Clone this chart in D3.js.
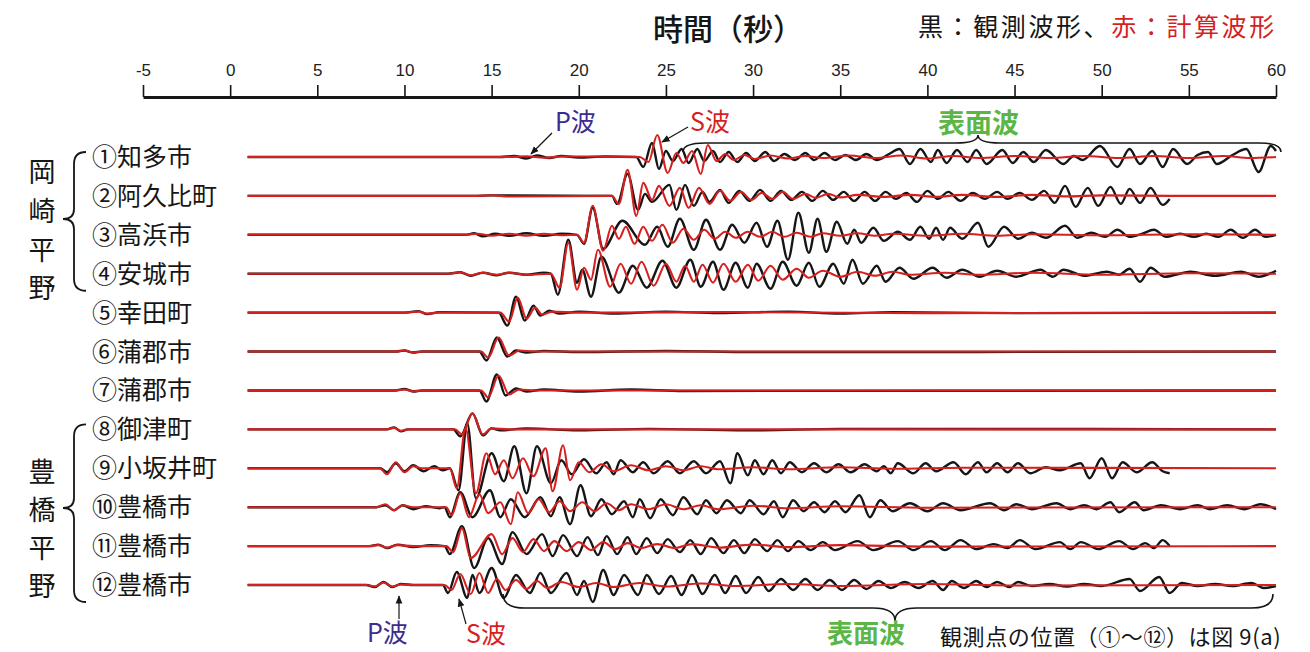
<!DOCTYPE html>
<html>
<head>
<meta charset="utf-8">
<script src="https://cdn.jsdelivr.net/npm/d3@7"></script>
<style>
  body { margin: 0; background: #fff; }
  svg { display: block; }
  text { font-family: "Noto Sans CJK JP", sans-serif; }
</style>
</head>
<body>
<svg id="chart" width="1310" height="652"></svg>
<script>
// time axis (seconds)
const tickValues = [-5, 0, 5, 10, 15, 20, 25, 30, 35, 40, 45, 50, 55, 60];

// station names, top to bottom
const stations = ['①知多市', '②阿久比町', '③高浜市', '④安城市', '⑤幸田町', '⑥蒲郡市',
  '⑦蒲郡市', '⑧御津町', '⑨小坂井町', '⑩豊橋市', '⑪豊橋市', '⑫豊橋市'];

// waveform extrema: [time (s), amplitude]
// obs = observed (black), syn = computed (red)
const obs1 = [[1,0],[15.5,0],[16.3,1],[17.0,-1.5],[17.6,1.5],[18.3,-1],[19,1],[20,-0.5],[21.5,0.5],[23.3,0],
  [23.7,-10],[24.2,14],[24.6,-12],[25.0,6],[25.4,-4],[25.9,8],[26.3,-6],[26.8,8],[27.2,-4],[27.7,6],[28.1,-5],
  [28.6,5],[29.1,-5],[29.6,4],[30.1,-4],[30.7,5],[31.2,-4],[31.8,3],[32.4,-3],[33.0,4],[33.5,-3],[34.1,4],
  [34.7,-3],[35.3,2],[35.9,-3],[36.5,3],[37.1,-3],[37.8,3],[38.4,8],[39.0,-7],[39.6,8],[40.2,-5],[40.6,7],
  [41.1,-6],[41.7,7],[42.3,-5],[42.8,7],[43.4,-7],[44.3,7],[44.9,-6],[45.5,5],[46.1,-5],[46.8,7],[47.8,-7],
  [48.4,1],[48.9,-3],[49.9,11],[50.9,-10],[51.6,8],[52.2,-7],[52.9,6],[53.5,-10],[54.1,8],[54.9,-7],[55.5,2],
  [56.1,5],[56.6,-7],[57.5,2],[58.3,8],[59.0,-15],[59.7,11],[60,6]];
const syn1 = [[1,0],[16,0],[17,0.8],[18,-0.8],[19,0.5],[23.5,0],[24.0,-5],[24.5,22],[25.1,-16],[25.6,4],[26.0,-6],
  [26.5,6],[27.0,-17],[27.4,12],[27.9,-4],[28.4,3],[28.9,-3],[29.5,2],[30.1,-2],[31,1.5],[32,-1.5],[33,1],[34,-1],
  [35.5,1.5],[37,-1],[38.5,1.5],[40,-1.5],[41.5,1],[43,-1],[45,1],[47,-1],[49,1],[51,-1],[53,1],[55,-1],[57,1],
  [58.5,-1],[60,0]];

const obs2 = [[1,0],[14,0],[15,0.5],[21.9,0],[22.2,-8],[22.8,22],[23.4,-14],[23.8,2],[24.2,-6],
  [25.2,11],[25.6,-14],[26.1,11],[26.6,-10],[27.1,4],[27.5,-6],[28.1,6],[28.6,-7],[29.2,5],[29.8,-5],[30.4,6],
  [31.0,-5],[31.6,5],[32.2,-4],[32.8,4],[33.4,-5],[34.0,5],[34.6,-4],[35.2,4],[35.8,-5],[36.4,4],[37.0,-5],
  [37.6,4],[38.2,-3],[38.8,3],[39.4,-6],[40.0,5],[40.6,-3],[41.2,4],[41.9,-5],[42.6,3],[43.3,-3],[44.0,4],
  [44.6,-3],[45.3,3],[46.0,-4],[46.7,5],[47.3,-7],[47.9,10],[48.5,-11],[49.2,8],[49.8,-10],[50.5,9],[51.1,-8],
  [51.6,7],[52.2,-7],[52.8,8],[53.5,-9],[53.9,-3]];
const syn2 = [[1,0],[14,0],[15,0.6],[16,-0.6],[21.9,0],[22.3,-8],[22.8,26],[23.3,-20],[23.7,13],[24.2,-4],[24.6,10],
  [25.2,-10],[25.8,8],[26.3,-12],[26.9,8],[27.5,-8],[28.1,5],[28.7,-5],[29.3,4],[29.9,-4],[30.5,3],[31.1,-3],
  [31.7,4],[32.3,-3],[33.0,2],[33.6,-2],[34.3,2],[35.0,-1.5],[36,1],[37.5,-1],[39,1],[40.5,-1],[42,1],[44,-1],
  [46,1],[48,-0.5],[50,0.5],[54,0],[60,0]];

const obs3 = [[1,0],[13.5,0],[14,1.5],[14.5,-1.5],[15.2,1],[16,-1],[17,1.5],[18,-1],[19,1],[19.9,0],
  [20.3,-9],[20.8,27],[21.4,-14],[22.5,14],[23.8,-10],[24.5,8],[25.1,-12],[25.8,16],[26.6,-15],[27.3,15],
  [28.1,-15],[28.8,10],[29.5,-8],[30.2,12],[30.8,-12],[31.4,14],[32.0,-25],[32.6,22],[33.2,-18],[33.7,16],
  [34.2,-17],[34.8,13],[35.4,-9],[35.8,5],[36.2,-8],[36.9,7],[37.5,-6],[38.3,3],[39.0,-5],[39.6,8],[40.1,-4],
  [40.5,7],[40.9,-5],[41.3,7],[42.0,-4],[42.9,12],[43.5,-12],[44.4,8],[45.2,-4],[46.0,2],[46.8,-3],[47.9,9],
  [48.6,-3],[49.4,2],[50.2,-2],[50.9,5],[51.6,-2],[52.3,1],[53.0,5],[53.7,-2],[54.5,1],[55.3,-2],[56.0,1],
  [56.7,-2],[57.4,5],[58.1,-3],[58.8,5],[59.4,-2],[60,0]];
const syn3 = [[1,0],[13.5,0],[14.2,1],[15,-1],[16,1],[17,-1],[18,1],[19,-0.5],[19.9,0],[20.3,-8],[20.8,29],
  [21.4,-16],[21.9,9],[22.3,-4],[22.7,8],[23.2,-9],[23.7,8],[24.2,-6],[24.8,10],[25.4,-8],[26.0,6],[26.6,-5],
  [27.2,5],[27.8,-4],[28.4,3],[29.0,-3],[29.7,3],[30.4,-2],[31.1,3],[31.8,-2],[32.5,2],[33.3,-2],[34,1.5],
  [35,-1],[36,1.5],[37,-1],[38,1],[40,-1],[42,1],[44,-1],[46,0.5],[50,-0.5],[55,0.5],[60,0]];

const obs4 = [[1,0],[12.5,0],[13.2,1.5],[13.8,-2],[14.5,1],[15.3,-1.5],[16,1],[17,-1],[18,1],[18.4,0],
  [18.8,-21],[19.4,34],[19.9,-9],[20.2,4],[20.7,-23],[21.3,17],[22.3,-19],[23.1,8],[23.9,-14],[24.8,13],
  [25.6,-14],[26.4,14],[27.0,-13],[27.7,12],[28.3,-16],[29.0,11],[29.7,-14],[30.2,10],[31.0,-15],[31.7,12],
  [32.5,-12],[33.2,11],[33.8,-13],[34.6,10],[35.2,-10],[35.7,14],[36.3,-10],[37.1,8],[37.6,-8],[38.4,6],
  [39.2,-5],[40.3,6],[41.1,-4],[42.0,4],[43.0,-3],[44.0,3],[45.1,-3],[46.5,4],[47.2,-3],[47.8,4],[49.0,-2],
  [50.3,2],[51.0,-1],[51.6,5],[52.2,-8],[52.8,6],[53.6,-3],[55.1,2],[56.5,-2],[58.0,2],[59.0,-3],[60,3]];
const syn4 = [[1,0],[12.5,0],[13.2,1.5],[13.8,-1.5],[14.5,1],[15.3,-1],[16,1],[17,-1],[18.4,0],[18.9,-14],
  [19.4,31],[19.9,-16],[20.3,6],[20.7,-6],[21.1,24],[21.8,-13],[22.4,10],[23.0,-10],[23.6,12],[24.3,-12],
  [25.0,10],[25.6,-8],[26.1,8],[26.6,-8],[27.1,9],[27.7,-9],[28.3,10],[29.0,-8],[29.7,9],[30.3,-7],[31.0,8],
  [31.7,-6],[32.5,5],[33.2,-4],[34,3],[35,-3],[36,2],[37,-2],[38,2],[39,-1],[41,1],[43,-1],[46,1],[50,-1],
  [55,0.5],[60,0]];

const obs5 = [[1,0],[10,0],[10.8,1.5],[11.3,-1.5],[12,0.5],[15.4,0],[15.9,-13],[16.4,16],[16.9,-8],[17.4,7],
  [17.8,-3],[18.3,2],[18.9,-1],[20,1],[22,-1],[25,1],[28,-0.5],[32,1],[35,-1],[38,0.5],[45,-0.5],[60,0]];
const syn5 = [[1,0],[10,0],[10.8,1],[11.3,-1],[12,0],[15.5,0],[16.0,-9],[16.5,15],[17.0,-6],[17.5,5],[17.9,-2],
  [18.5,1],[20,0],[30,0.5],[40,-0.5],[60,0]];

const obs6 = [[1,0],[9.5,0],[10,1],[10.5,-1],[11,0],[14.3,0],[14.7,-9],[15.3,14],[15.9,-5],[16.4,1],[17,-1],
  [18,0.5],[20,-0.5],[25,0.5],[30,-0.5],[60,0]];
const syn6 = [[1,0],[9.5,0],[10,1],[10.5,-1],[11,0],[14.4,0],[14.8,-6],[15.4,14],[16.0,-4],[16.6,1],[17.5,0],[60,0]];

const obs7 = [[1,0],[9.5,0],[10,1.5],[10.5,-1],[11,0],[14.3,0],[14.7,-11],[15.3,16],[15.8,-5],[16.4,2],[17,-1],
  [18,1],[20,-1],[23,1],[26,-0.5],[60,0]];
const syn7 = [[1,0],[9.5,0],[10,1],[10.5,-1],[11,0],[14.4,0],[14.8,-7],[15.4,15],[16.0,-4],[16.6,1],[17.5,0],[60,0]];

const obs8 = [[1,0],[9.0,0],[9.4,2],[9.8,-2],[10.2,0],[12.8,0],[13.2,-7],[13.9,16],[14.5,-6],[15.0,1],[15.5,-1],
  [17,1],[20,-1],[24,0.5],[30,-1],[35,0.5],[60,0]];
const syn8 = [[1,0],[9.0,0],[9.4,1.5],[9.8,-1.5],[10.2,0],[12.9,0],[13.3,-5],[13.9,16],[14.5,-5],[15,1],[16,0],[60,0]];

const obs9 = [[1,0],[8.6,0],[9.0,-4],[9.5,5],[10.0,-3],[10.5,3],[11.1,-3],[11.7,2],[12.2,-2],[12.6,0],
  [13.1,-22],[13.6,45],[14.1,-30],[15.0,15],[15.7,-13],[16.3,22],[17.0,-25],[17.6,22],[18.4,-15],[19.0,8],
  [19.6,-6],[20.3,9],[21.0,-5],[21.6,6],[22.0,-6],[22.4,8],[23.1,-4],[23.7,6],[24.3,-5],[25.1,7],[25.8,-5],
  [26.6,7],[27.3,-5],[28.1,7],[28.7,-15],[29.1,15],[29.7,-7],[30.1,8],[30.6,-6],[31.1,8],[31.6,-5],[32.1,6],
  [32.8,-4],[33.5,5],[34.2,-4],[34.9,4],[35.6,-4],[36.4,4],[37.1,-3],[37.5,2],[37.9,-5],[38.3,5],[39.2,-5],
  [39.9,5],[40.5,-3],[41.5,6],[42.2,-6],[42.9,6],[43.4,-4],[44.0,5],[44.6,-4],[45.2,5],[45.9,-5],[46.8,1],
  [47.6,-2],[48.8,5],[49.3,-10],[50.0,10],[50.6,-10],[51.2,6],[52.0,-4],[52.9,6],[53.5,-3],[53.9,-5]];
const syn9 = [[1,0],[8.6,0],[9.0,-6],[9.5,6],[10.0,-4],[10.5,2],[11,0],[12.6,0],[13.0,-20],[13.5,40],[14.1,-25],
  [14.7,15],[15.2,-6],[15.7,8],[16.2,-10],[16.8,10],[17.4,-8],[18.1,20],[18.5,-23],[19.1,23],[19.5,-12],
  [20.0,6],[20.6,-4],[21.3,4],[22,-3],[23,3],[24,-2],[25,2],[26,-2],[27,2],[28,-1],[30,1],[32,-1],[35,1],
  [38,-0.5],[42,0.5],[60,0]];

const obs10 = [[1,0],[8.4,0],[8.9,2],[9.4,-3],[9.9,2],[10.5,-2],[11.2,1],[12,-1],[12.3,0],[12.6,-10],[13.2,15],
  [13.9,-10],[14.9,17],[15.5,-10],[16.1,8],[16.9,-10],[17.8,10],[18.4,-9],[18.9,10],[19.5,-17],[20.1,22],
  [20.7,-9],[21.3,8],[21.9,-7],[22.6,6],[23.1,-10],[23.5,8],[24.1,-11],[24.7,8],[25.4,-8],[26.0,10],[26.8,-7],
  [27.3,7],[27.9,-6],[28.5,7],[29.3,-6],[29.8,7],[30.6,-7],[31.2,6],[31.7,-10],[32.3,7],[32.9,-4],[33.5,5],
  [34.1,-5],[34.7,6],[35.3,-5],[36.1,12],[36.7,-10],[37.3,7],[38.0,-4],[39.0,4],[40.0,-4],[40.9,4],[41.9,-3],
  [43.6,4],[44.4,-3],[45.1,3],[46.0,-2],[47.4,4],[48.2,-2],[49,2],[49.7,-2],[50.5,5],[51.0,-5],[51.9,5],
  [52.4,-3],[53.4,2],[54.5,-2],[55.5,2],[56.2,-2],[57.2,2],[58.2,-2],[59.1,3],[60,-2]];
const syn10 = [[1,0],[8.4,0],[8.9,3],[9.4,-3],[9.9,2],[10.5,0],[12.4,0],[12.7,-8],[13.2,14],[13.7,-10],[14.3,13],
  [14.8,-6],[15.5,5],[16.1,-17],[16.5,15],[17.1,-6],[17.7,8],[18.3,-5],[18.9,6],[19.5,-4],[20.2,5],[20.9,-4],
  [21.6,4],[22.3,-3],[23,3],[24,-2],[25,3],[26,-2],[27,2],[28,-2],[30,1.5],[32,-1],[35,1],[40,-0.5],[60,0]];

const obs11 = [[1,0],[8,0],[8.5,1.5],[9,-2],[9.6,1.5],[10.5,-1],[11.5,1],[12.3,0],[12.6,-8],[13.3,20],[14.0,-22],
  [14.8,8],[15.6,-18],[16.2,14],[17.0,-8],[17.9,12],[18.5,-10],[19.1,11],[19.9,-10],[20.5,9],[21.1,-9],
  [21.6,10],[22.2,-8],[22.8,9],[23.3,-8],[23.9,8],[24.5,-7],[25.1,7],[25.8,-6],[26.4,6],[27.0,-8],[27.6,8],
  [28.3,-7],[28.9,6],[29.5,-7],[30.1,7],[30.8,-5],[31.4,6],[32.0,-5],[32.6,5],[33.3,-4],[34.0,4],[34.7,-4],
  [36.0,5],[36.9,-4],[38.3,5],[39.2,-4],[40.2,5],[41.0,-4],[41.9,6],[42.8,-3],[43.8,2],[44.6,-2],[45.3,6],
  [46.2,-3],[47.6,4],[48.2,-3],[48.8,4],[49.8,-3],[51.0,5],[51.8,-3],[52.5,3],[53.0,-2],[53.5,6],[53.9,0]];
const syn11 = [[1,0],[8,0],[8.5,1],[9,-1.5],[9.6,1],[10.5,0],[12.4,0],[12.8,-6],[13.3,18],[13.8,-12],[15.0,12],
  [15.6,-8],[16.2,8],[16.8,-6],[17.4,7],[18.0,-5],[18.6,5],[19.3,-5],[20.0,4],[20.7,-4],[21.4,4],[22.1,-3],
  [22.8,3],[23.6,-2],[24.5,2],[25.5,-2],[26.5,2],[28,-1.5],[30,1.5],[32,-1],[35,1],[40,-0.5],[60,0]];

const obs12 = [[1,0],[7.8,0],[8.3,-2],[8.8,3],[9.3,-2],[9.8,1],[10.5,0],[12.2,0],[12.5,-8],[13.0,13],[13.6,-13],
  [13.9,10],[14.3,-8],[15.0,17],[15.7,-13],[16.4,10],[17.2,-8],[17.8,12],[18.4,-8],[19.3,12],[19.9,-10],
  [20.3,4],[20.8,-17],[21.4,15],[22.0,-10],[22.6,10],[23.4,-10],[23.9,10],[24.6,-9],[25.3,9],[25.9,-10],
  [26.5,10],[27.1,-9],[27.8,10],[28.4,-8],[29.0,9],[29.6,-8],[30.3,8],[30.9,-6],[31.6,6],[32.3,-5],[33.0,6],
  [33.7,-5],[34.4,5],[35.1,-5],[35.8,5],[36.5,-4],[37.2,4],[37.9,-3],[38.7,3],[39.5,-3],[40.3,4],[40.9,-5],
  [41.4,4],[42.1,-3],[42.8,4],[43.4,-2],[44.0,3],[44.7,-2],[45.2,3],[46.0,-1],[47,1],[48,-1.5],[49,1],[50,-1],
  [51.6,6],[52.2,-6],[53.3,8],[53.9,-8],[54.6,2],[55.5,-1],[56.5,1],[57.5,-1],[58.6,2],[59.3,-3],[60,-1]];
const syn12 = [[1,0],[7.8,0],[8.3,-1.5],[8.8,2.5],[9.3,-1.5],[9.8,0.5],[10.5,0],[12.3,0],[12.7,-5],[13.2,11],
  [13.8,-9],[14.3,12],[14.8,-8],[15.3,6],[15.8,-5],[16.4,5],[17.0,-4],[17.6,4],[18.2,-3],[19,3],[20,-2],[21,2],
  [22,-2],[23.5,2],[25,-1.5],[27,1.5],[29,-1],[32,1],[35,-1],[40,1],[45,-0.5],[60,0]];

const observed = [obs1, obs2, obs3, obs4, obs5, obs6, obs7, obs8, obs9, obs10, obs11, obs12];
const computed = [syn1, syn2, syn3, syn4, syn5, syn6, syn7, syn8, syn9, syn10, syn11, syn12];

const BLACK = '#161616', RED = '#d61f1f', PURPLE = '#3b2c8e', GREEN = '#5bb646';

const svg = d3.select('#chart');

// scales
const x = d3.scaleLinear().domain([-5, 60]).range([143, 1276]);
const row = d3.scaleLinear().domain([0, stations.length - 1]).range([157, 585]);
const amp = d3.scaleLinear().domain([0, 1]).range([0, -1]);

// arrow head
svg.append('defs').append('marker')
    .attr('id', 'arrow')
    .attr('viewBox', '0 0 10 10')
    .attr('refX', 9).attr('refY', 5)
    .attr('markerWidth', 7).attr('markerHeight', 7)
    .attr('orient', 'auto')
  .append('path')
    .attr('d', 'M0,1 L10,5 L0,9 Z')
    .attr('fill', BLACK);

// time axis on top
const axis = svg.append('g')
    .attr('transform', 'translate(0,97)')
    .call(d3.axisTop(x).tickValues(tickValues).tickFormat(d => String(d))
        .tickSize(12).tickSizeOuter(0).tickPadding(9));
axis.select('.domain').attr('stroke', BLACK).attr('stroke-width', 3);
axis.selectAll('.tick line').attr('stroke', BLACK).attr('stroke-width', 1.6);
axis.selectAll('.tick text')
    .attr('fill', '#222')
    .style('font-family', '"Liberation Sans", Arial, sans-serif')
    .style('font-size', '17px');

svg.append('text')
    .attr('x', 653).attr('y', 40)
    .style('font-size', '30px').style('font-weight', 500)
    .attr('fill', BLACK)
    .text('時間（秒）');

const legend = svg.append('text')
    .attr('x', 918).attr('y', 36)
    .style('font-size', '25px')
    .style('letter-spacing', '2.6px');
legend.append('tspan').attr('fill', BLACK).text('黒：観測波形、');
legend.append('tspan').attr('fill', RED).text('赤：計算波形');

// waveforms: black first, red on top
const wave = i => d3.line()
    .x(d => x(d[0]))
    .y(d => row(i) + amp(d[1]))
    .curve(d3.curveMonotoneX);

const traces = svg.append('g').attr('fill', 'none').attr('stroke-linejoin', 'round');
observed.forEach((s, i) => {
    traces.append('path').attr('d', wave(i)(s)).attr('stroke', BLACK).attr('stroke-width', 2.4);
});
computed.forEach((s, i) => {
    traces.append('path').attr('d', wave(i)(s)).attr('stroke', RED).attr('stroke-width', 2.1);
});

// station labels
svg.append('g').selectAll('text')
    .data(stations)
    .enter().append('text')
    .attr('x', 92)
    .attr('y', (d, i) => row(i))
    .attr('dy', '0.36em')
    .style('font-size', '25px')
    .attr('fill', BLACK)
    .text(d => d);

// plain (region) labels, written vertically
const regions = [
    { chars: ['岡', '崎', '平', '野'], y: [172, 211, 250, 288], from: 0, to: 3, tip: 219 },
    { chars: ['豊', '橋', '平', '野'], y: [472, 510, 548, 586], from: 7, to: 11, tip: 508 }
];
regions.forEach(r => {
    r.chars.forEach((c, k) => {
        svg.append('text')
            .attr('x', 42).attr('y', r.y[k]).attr('dy', '0.36em')
            .attr('text-anchor', 'middle')
            .style('font-size', '27px')
            .attr('fill', BLACK)
            .text(c);
    });
    const y1 = row(r.from) - 5, y2 = row(r.to) + 17, xs = 74, xe = 86, xt = 63;
    svg.append('path')
        .attr('d', `M${xe},${y1} Q${xs},${y1} ${xs},${y1 + 12} L${xs},${r.tip - 10} Q${xs},${r.tip} ${xt},${r.tip}`
            + ` Q${xs},${r.tip} ${xs},${r.tip + 10} L${xs},${y2 - 12} Q${xs},${y2} ${xe},${y2}`)
        .attr('fill', 'none').attr('stroke', BLACK).attr('stroke-width', 1.8);
});

// horizontal curly brace
function hBrace(x1, x2, xm, y, e, h) {
    const q = 22;
    return `M${x1},${y + e} Q${x1},${y} ${x1 + q},${y} L${xm - q},${y} Q${xm},${y} ${xm},${y - h}`
        + ` Q${xm},${y} ${xm + q},${y} L${x2 - q},${y} Q${x2},${y} ${x2},${y + e}`;
}
svg.append('path').attr('d', hBrace(683, 1281, 978, 143, 9, 8))
    .attr('fill', 'none').attr('stroke', BLACK).attr('stroke-width', 1.6);
svg.append('path').attr('d', hBrace(503, 1273, 895, 608, -14, -13))
    .attr('fill', 'none').attr('stroke', BLACK).attr('stroke-width', 1.6);

// annotations
function label(t, xx, yy, color, size, weight, spacing) {
    svg.append('text')
        .attr('x', xx).attr('y', yy).attr('dy', '0.36em')
        .style('font-size', size + 'px').style('font-weight', weight || 400)
        .style('letter-spacing', (spacing || 0) + 'px')
        .attr('fill', color)
        .text(t);
}
function arrow(x1, y1, x2, y2) {
    svg.append('line')
        .attr('x1', x1).attr('y1', y1).attr('x2', x2).attr('y2', y2)
        .attr('stroke', BLACK).attr('stroke-width', 1.2)
        .attr('marker-end', 'url(#arrow)');
}
label('P波', 555, 122, PURPLE, 25);
arrow(552, 133, 531, 154);
label('S波', 690, 122, RED, 25);
arrow(688, 127, 662, 142);
label('表面波', 938, 123, GREEN, 27, 700);

label('P波', 367, 633, PURPLE, 25);
arrow(399, 619, 399, 596);
label('S波', 466, 634, RED, 25);
arrow(466, 624, 459, 599);
label('表面波', 827, 634, GREEN, 26, 700);
label('観測点の位置（①～⑫）は図 9(a)', 940, 637, BLACK, 22, 400, 0.6);
</script>
</body>
</html>
